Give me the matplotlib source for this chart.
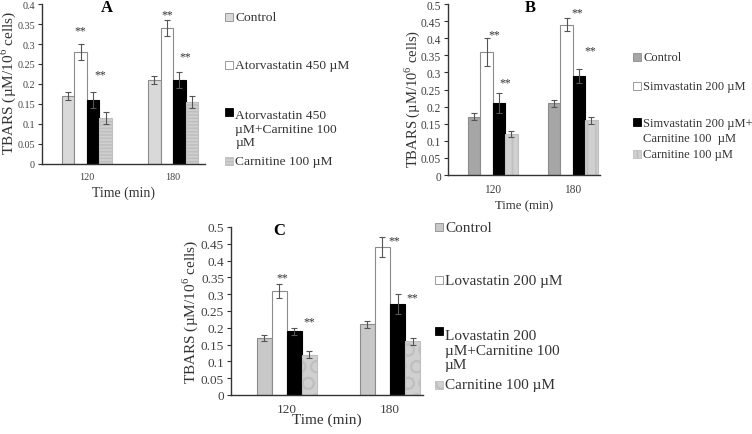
import matplotlib
matplotlib.use("Agg")
import matplotlib.pyplot as plt
from matplotlib.patches import Rectangle
import numpy as np

plt.rcParams['font.family'] = ['Liberation Serif', 'DejaVu Serif']
plt.rcParams['mathtext.fontset'] = 'custom'
plt.rcParams['mathtext.rm'] = 'Liberation Serif'
plt.rcParams['hatch.linewidth'] = 1.2

times = ['120', '180']

# panel A
a_labels = ['Control', 'Atorvastatin 450 µM', 'Atorvastatin 450\nµM+Carnitine 100\nµM', 'Carnitine 100 µM']
a_means = [[0.17, 0.21], [0.28, 0.34], [0.16, 0.21], [0.115, 0.155]]
a_errs = [[0.01, 0.01], [0.02, 0.02], [0.02, 0.02], [0.015, 0.015]]
a_stars = [(1, 0, 0.0, 0.335), (1, 1, 0.0, 0.375), (2, 0, 0.55, 0.225), (2, 1, 0.5, 0.27)]

# panel B
b_labels = ['Control', 'Simvastatin 200 µM', 'Simvastatin 200 µM+\nCarnitine 100  µM', 'Carnitine 100 µM']
b_means = [[0.17, 0.21], [0.36, 0.44], [0.21, 0.29], [0.12, 0.16]]
b_errs = [[0.01, 0.01], [0.04, 0.02], [0.03, 0.02], [0.01, 0.01]]
b_stars = [(1, 0, 0.6, 0.41), (1, 1, 0.9, 0.475), (2, 0, 0.5, 0.27), (2, 1, 0.9, 0.365)]

# panel C
c_labels = ['Control', 'Lovastatin 200 µM', 'Lovastatin 200\nµM+Carnitine 100\nµM', 'Carnitine 100 µM']
c_means = [[0.17, 0.21], [0.31, 0.44], [0.19, 0.27], [0.12, 0.16]]
c_errs = [[0.01, 0.01], [0.02, 0.03], [0.01, 0.03], [0.01, 0.01]]
c_stars = [(1, 0, 0.2, 0.35), (1, 1, 0.8, 0.46), (2, 0, 1.0, 0.22), (2, 1, 1.0, 0.29)]

FACES = ['white', 'black', '#d0d0d0']
EDGES = ['#8c8c8c', '#8c8c8c', 'black', '#bfbfbf']


def panel(fig, rect, letter, means, errs, stars, ymax, xlim, width,
          ctrl_color, carn_hatch, fs, lab_fs, ylab_fs, ylab_xy, xlab_y, letter_x):
    ax = fig.add_axes(rect)
    x = np.arange(len(times))
    faces = [ctrl_color] + FACES
    hatches = [None, None, None, carn_hatch]
    for i in range(4):
        pos = x + (i - 1.5) * width
        ax.bar(pos, means[i], width, color=faces[i], edgecolor=EDGES[i],
               linewidth=0.8, hatch=hatches[i])
        ax.errorbar(pos, means[i], yerr=errs[i], fmt='none', ecolor='#555555',
                    elinewidth=0.8, capsize=2.5, capthick=0.8)
    for s, t, dx, y in stars:
        xs = x[t] + (s - 1.5) * width + dx * width
        ax.text(xs, y, '**', ha='center', va='center', fontsize=8.5, color='#333333')
    ax.set_ylim(0, ymax)
    ax.set_xlim(*xlim)
    ticks = np.arange(0, ymax + 0.001, 0.05)
    ax.set_yticks(ticks)
    ax.set_yticklabels(['%g' % round(v, 2) for v in ticks])
    ax.set_xticks(x)
    ax.set_xticklabels(times)
    ax.tick_params(axis='x', length=0, pad=6, labelsize=fs, labelcolor='#404040')
    ax.tick_params(axis='y', length=3, width=0.8, pad=2, labelsize=fs,
                   labelcolor='#404040', color='#333333')
    for sp in ['top', 'right']:
        ax.spines[sp].set_visible(False)
    for sp in ['left', 'bottom']:
        ax.spines[sp].set_color('#333333')
        ax.spines[sp].set_linewidth(1.0)
    ax.set_xlabel('Time (min)', fontsize=lab_fs, color='#333333', va='center')
    ax.set_ylabel('TBARS (µM/10$^{6}$ cells)', fontsize=ylab_fs, color='#333333', va='center')
    ax.yaxis.set_label_coords(*ylab_xy)
    ax.xaxis.set_label_coords(0.5, xlab_y)
    ax.text(letter_x, 0.98, letter, transform=ax.transAxes, ha='center', va='center',
            fontsize=12, fontweight='bold')
    return ax


def side_legend(fig, x, ys, labels, ctrl_color, carn_hatch, fs, spacing=1.15, box=0.0184):
    faces = [ctrl_color] + FACES
    hatches = [None, None, None, carn_hatch]
    W, H = fig.get_size_inches() * fig.dpi
    line_h = fs * 1.25 / 72 * fig.dpi / H * spacing / 1.15
    for i, (y, lab) in enumerate(zip(ys, labels)):
        h = box
        w = box * H / W
        fig.patches.append(Rectangle((x, y - h / 2), w, h, transform=fig.transFigure,
                                     facecolor=faces[i], edgecolor=EDGES[i],
                                     linewidth=0.6, hatch=hatches[i]))
        # first text line sits level with the swatch
        ty = y - lab.count('\n') * line_h / 2
        fig.text(x + w + 0.003, ty, lab, ha='left', va='center',
                 fontsize=fs, color='#333333', linespacing=spacing,
                 transform=fig.transFigure)


fig = plt.figure(figsize=(7.52, 4.35), dpi=100)

panel(fig, [0.0559, 0.6207, 0.2168, 0.3678], 'A', a_means, a_errs, a_stars, 0.4,
      (-0.52, 1.37), 0.145, '#d9d9d9', '-----', 7.3, 10, 11, (-0.205, 0.51), -0.175, 0.4)
side_legend(fig, 0.299, [1 - 18 / 435, 1 - 66 / 435, 1 - 113 / 435, 1 - 162 / 435],
            a_labels, '#d9d9d9', '-----', 9.7)

panel(fig, [0.5957, 0.5954, 0.2021, 0.393], 'B', b_means, b_errs, b_stars, 0.5,
      (-0.56, 1.34), 0.156, '#a6a6a6', '||', 8.3, 9.2, 10.5, (-0.237, 0.45), -0.18, 0.54)
side_legend(fig, 0.842, [1 - 58 / 435, 1 - 87 / 435, 1 - 123 / 435, 1 - 155 / 435],
            b_labels, '#a6a6a6', '||', 9, spacing=1.3)

panel(fig, [0.3072, 0.0897, 0.2553, 0.3862], 'C', c_means, c_errs, c_stars, 0.5,
      (-0.54, 1.32), 0.146, '#c8c8c8', 'O', 9.5, 11, 11, (-0.215, 0.5), -0.143, 0.25)
side_legend(fig, 0.578, [1 - 228 / 435, 1 - 281 / 435, 1 - 332 / 435, 1 - 386 / 435],
            c_labels, '#c8c8c8', 'O', 11)

fig.savefig('out.png', dpi=100)
